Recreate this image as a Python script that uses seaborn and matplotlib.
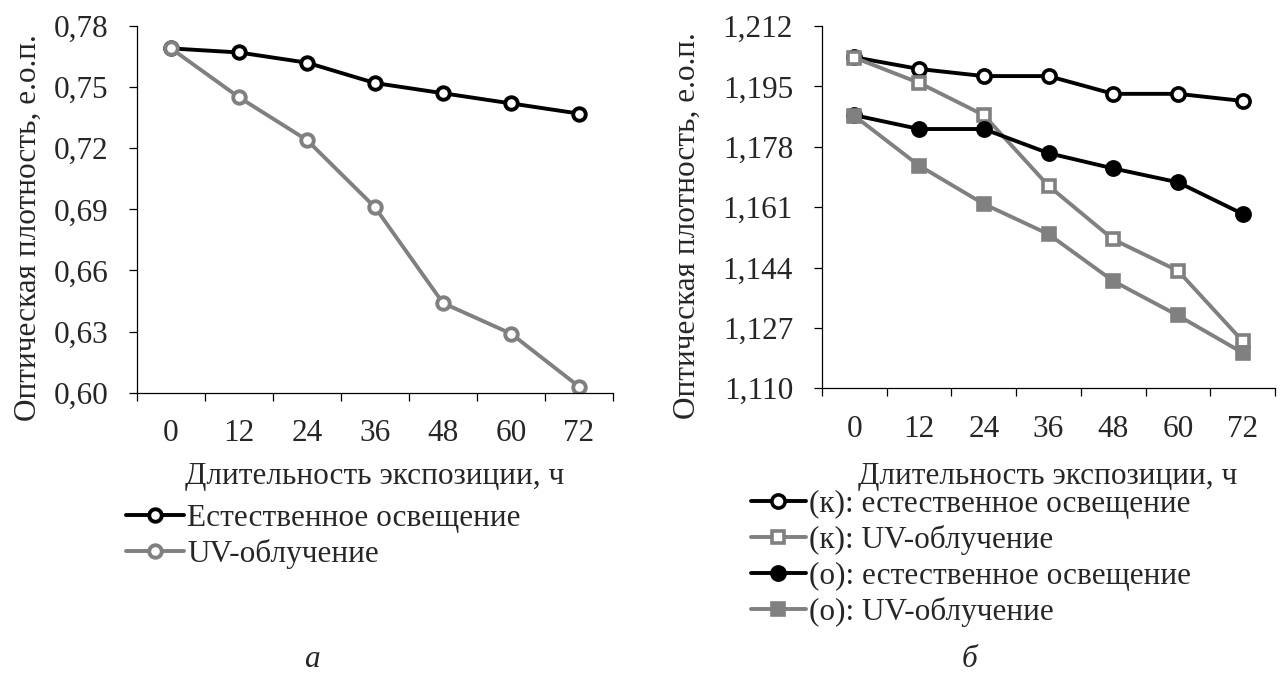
import numpy as np
import pandas as pd
import seaborn as sns
import matplotlib.pyplot as plt
from matplotlib.ticker import FixedLocator, FuncFormatter

# data
hours = [0, 12, 24, 36, 48, 60, 72]

# panel a
nat_a = [0.769, 0.767, 0.762, 0.752, 0.747, 0.742, 0.737]
uv_a = [0.769, 0.745, 0.724, 0.691, 0.644, 0.629, 0.603]

# panel b
k_nat = [1.2032, 1.1999, 1.1979, 1.1979, 1.1929, 1.1929, 1.1909]
k_uv = [1.2031, 1.1960, 1.1869, 1.1670, 1.1519, 1.1431, 1.1233]
o_nat = [1.1869, 1.1830, 1.1830, 1.1762, 1.1719, 1.1680, 1.1591]
o_uv = [1.1867, 1.1727, 1.1619, 1.1534, 1.1402, 1.1305, 1.1200]

yticks_a = [0.60, 0.63, 0.66, 0.69, 0.72, 0.75, 0.78]
yticks_b = [1.110, 1.127, 1.144, 1.161, 1.178, 1.195, 1.212]

xlabel = 'Длительность экспозиции, ч'
ylabel = 'Оптическая плотность, е.о.п.'

sns.set_style('white')
plt.rcParams['font.family'] = ['Liberation Serif', 'DejaVu Serif']
FS = 22.5
GRAY = '#808080'
LW = 2.8

W, H = 1288, 680
fig = plt.figure(figsize=(W / 100, H / 100), dpi=100)


def px_axes(x0, y0, x1, y1):
    # axes from pixel box (top-left origin)
    return fig.add_axes([x0 / W, 1 - y1 / H, (x1 - x0) / W, (y1 - y0) / H])


def style_axes(ax, yticks, fmt):
    for s in ['top', 'right']:
        ax.spines[s].set_visible(False)
    for s in ['left', 'bottom']:
        ax.spines[s].set_color('black')
        ax.spines[s].set_linewidth(0.9)
    ax.set_xlim(-6, 78)
    ax.set_ylim(yticks[0], yticks[-1])
    ax.xaxis.set_major_locator(FixedLocator(np.arange(-6, 79, 12)))
    ax.xaxis.set_minor_locator(FixedLocator(hours))
    ax.xaxis.set_major_formatter(FuncFormatter(lambda v, p: ''))
    ax.xaxis.set_minor_formatter(FuncFormatter(lambda v, p: f'{v:.0f}'))
    ax.tick_params(axis='x', which='major', direction='out', length=5.8,
                   width=0.9, color='black', bottom=True)
    ax.tick_params(axis='x', which='minor', length=0, pad=19,
                   labelsize=FS, bottom=True)
    ax.set_yticks(yticks)
    ax.yaxis.set_major_formatter(FuncFormatter(lambda v, p: fmt.format(v).replace('.', ',')))
    ax.tick_params(axis='y', direction='out', length=5.8, width=0.9,
                   color='black', pad=15, labelsize=FS, left=True)
    ax.set_xlabel('')
    ax.set_ylabel('')
    ax.grid(False)


# ---- panel a
ax1 = px_axes(137, 26, 613, 392.7)
sns.lineplot(x=hours, y=nat_a, ax=ax1, color='black', linewidth=LW,
             marker='o', markersize=9, markerfacecolor='white',
             markeredgecolor='black', markeredgewidth=2.8,
             label='Естественное освещение')
sns.lineplot(x=hours, y=uv_a, ax=ax1, color=GRAY, linewidth=LW,
             marker='o', markersize=9, markerfacecolor='white',
             markeredgecolor=GRAY, markeredgewidth=2.8,
             label='UV-облучение')
style_axes(ax1, yticks_a, '{:.2f}')
ax1.legend(loc='upper left', bbox_to_anchor=(126 / W, 1 - 504 / H),
           bbox_transform=fig.transFigure, frameon=False, fontsize=FS,
           handlelength=1.85, handletextpad=0.1, labelspacing=0.2,
           borderpad=0, borderaxespad=0)

# ---- panel b
ax2 = px_axes(822, 26, 1275, 388.3)
series_b = [
    ('(к): естественное освещение', k_nat, 'black', 'o', 'white', 9.5),
    ('(к): UV-облучение', k_uv, GRAY, 's', 'white', 8.5),
    ('(о): естественное освещение', o_nat, 'black', 'o', 'black', 9.5),
    ('(о): UV-облучение', o_uv, GRAY, 's', GRAY, 8.5),
]
for name, vals, col, mk, face, ms in series_b:
    sns.lineplot(x=hours, y=vals, ax=ax2, color=col, linewidth=LW,
                 marker=mk, markersize=ms, markerfacecolor=face,
                 markeredgecolor=col, markeredgewidth=2.6, label=name)
style_axes(ax2, yticks_b, '{:.3f}')
ax2.legend(loc='upper left', bbox_to_anchor=(751 / W, 1 - 490 / H),
           bbox_transform=fig.transFigure, frameon=False, fontsize=FS,
           handlelength=1.75, handletextpad=0.1, labelspacing=0.2,
           borderpad=0, borderaxespad=0)

# axis titles
fig.text(375 / W, 1 - 484 / H, xlabel, ha='center', va='baseline', fontsize=FS)
fig.text(1048 / W, 1 - 484 / H, xlabel, ha='center', va='baseline', fontsize=FS)
fig.text(28 / W, 1 - 228 / H, ylabel, ha='center', va='center',
         rotation=90, fontsize=FS)
fig.text(687 / W, 1 - 226 / H, ylabel, ha='center', va='center',
         rotation=90, fontsize=FS)

# panel captions
fig.text(312 / W, 1 - 667 / H, 'а', ha='center', va='baseline',
         fontsize=FS, style='italic')
fig.text(970 / W, 1 - 667 / H, 'б', ha='center', va='baseline',
         fontsize=FS, style='italic')

fig.savefig('out.png', dpi=100, facecolor='white')
